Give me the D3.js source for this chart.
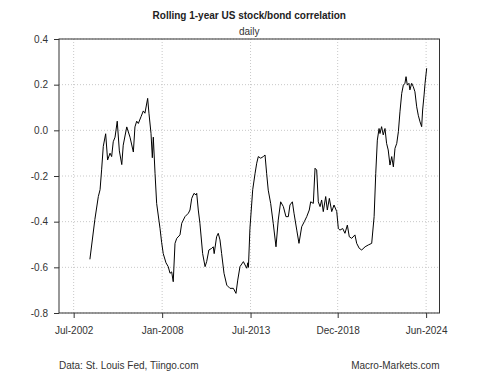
<!DOCTYPE html>
<html>
<head>
<meta charset="utf-8">
<script src="https://cdn.jsdelivr.net/npm/d3@7"></script>
<style>
  body { margin: 0; background: #fff; }
  text { font-family: "Liberation Sans", Arial, sans-serif; }
</style>
</head>
<body>
<svg id="vis" width="500" height="375"></svg>
<script>
// rolling 1y correlation (approx)
const dates = [
  '2003-07-05', '2003-10-26', '2004-01-12', '2004-02-21', '2004-03-28', '2004-05-04', '2004-06-27',
  '2004-08-10', '2004-10-04', '2004-11-10', '2004-12-16', '2005-01-26', '2005-03-17', '2005-05-04',
  '2005-06-28', '2005-07-31', '2005-10-19', '2006-01-01', '2006-03-18', '2006-04-23', '2006-06-02',
  '2006-07-09', '2006-09-09', '2006-10-30', '2006-12-06', '2007-02-06', '2007-03-07', '2007-04-23',
  '2007-05-23', '2007-06-14', '2007-07-24', '2007-08-29', '2007-11-14', '2007-12-20', '2008-01-26',
  '2008-03-28', '2008-05-18', '2008-06-28', '2008-08-04', '2008-09-09', '2008-10-19', '2008-11-28',
  '2009-02-09', '2009-03-21', '2009-06-03', '2009-08-19', '2009-09-24', '2009-11-03', '2009-12-24',
  '2010-02-10', '2010-02-24', '2010-04-01', '2010-05-08', '2010-07-09', '2010-09-02', '2010-10-08',
  '2010-11-28', '2011-01-30', '2011-03-07', '2011-03-28', '2011-05-22', '2011-06-28', '2011-08-07',
  '2011-09-13', '2011-11-06', '2012-01-08', '2012-03-20', '2012-06-06', '2012-08-04', '2012-09-13',
  '2012-11-03', '2013-01-19', '2013-04-05', '2013-04-30', '2013-05-14', '2013-06-17', '2013-08-19',
  '2013-10-12', '2013-11-18', '2013-12-24', '2014-02-17', '2014-04-16', '2014-05-26', '2014-07-01',
  '2014-08-07', '2014-10-01', '2014-11-28', '2015-01-30', '2015-03-22', '2015-05-16', '2015-07-16',
  '2015-09-13', '2015-11-06', '2015-12-13', '2016-02-06', '2016-03-14', '2016-05-16', '2016-07-05',
  '2016-09-05', '2016-11-03', '2016-12-28', '2017-02-24', '2017-03-28', '2017-05-27', '2017-07-05',
  '2017-08-11', '2017-09-17', '2017-10-27', '2017-12-02', '2018-01-08', '2018-03-04', '2018-04-10',
  '2018-05-26', '2018-07-19', '2018-09-09', '2018-11-10', '2018-12-16', '2019-01-22', '2019-03-25',
  '2019-05-16', '2019-07-09', '2019-08-22', '2019-10-16', '2019-12-28', '2020-02-06', '2020-04-05',
  '2020-05-30', '2020-08-15', '2020-10-27', '2021-01-12', '2021-03-08', '2021-04-14', '2021-05-20',
  '2021-06-28', '2021-07-19', '2021-08-25', '2021-10-01', '2021-11-10', '2021-12-16', '2022-01-22',
  '2022-03-03', '2022-04-12', '2022-05-19', '2022-06-25', '2022-08-04', '2022-09-10', '2022-10-16',
  '2022-11-25', '2023-01-01', '2023-02-06', '2023-03-03', '2023-04-01', '2023-05-08', '2023-05-30',
  '2023-07-09', '2023-08-15', '2023-09-21', '2023-10-31', '2023-12-06', '2024-01-15', '2024-02-21',
  '2024-03-14', '2024-04-16', '2024-05-08', '2024-06-14'
]
const corr = [
  -0.565, -0.39, -0.29, -0.26, -0.17, -0.07, -0.015,
  -0.13, -0.10, -0.115, -0.05, -0.03, 0.04, -0.09,
  -0.15, -0.065, 0.015, -0.03, -0.095, 0.015, 0.04,
  0.03, 0.06, 0.085, 0.075, 0.14, 0.075, -0.013,
  -0.12, -0.03, -0.19, -0.32, -0.43, -0.49, -0.54,
  -0.58, -0.597, -0.626, -0.62, -0.663, -0.495, -0.473,
  -0.458, -0.407, -0.378, -0.363, -0.349, -0.298, -0.276,
  -0.283, -0.276, -0.349, -0.407, -0.54, -0.597, -0.575,
  -0.524, -0.517, -0.51, -0.54, -0.466, -0.451, -0.48,
  -0.54, -0.626, -0.678, -0.692, -0.692, -0.714, -0.656,
  -0.597, -0.575, -0.604, -0.58, -0.6, -0.43, -0.26,
  -0.188, -0.144, -0.115, -0.122, -0.115, -0.108, -0.188,
  -0.262, -0.32, -0.407, -0.51, -0.393, -0.313, -0.334,
  -0.378, -0.378, -0.327, -0.313, -0.363, -0.437, -0.495,
  -0.422, -0.40, -0.378, -0.349, -0.313, -0.32, -0.166,
  -0.174, -0.313, -0.334, -0.305, -0.356, -0.29, -0.349,
  -0.298, -0.356, -0.327, -0.356, -0.43, -0.437, -0.43,
  -0.451, -0.415, -0.466, -0.473, -0.458, -0.495, -0.517,
  -0.524, -0.51, -0.502, -0.495, -0.378, -0.188, -0.043,
  0.008, -0.014, 0.016, -0.02, 0.008, -0.057, -0.086,
  -0.152, -0.115, -0.16, -0.079, -0.057, -0.006, 0.081,
  0.162, 0.198, 0.206, 0.235, 0.198, 0.206, 0.177,
  0.206, 0.191, 0.169, 0.103, 0.066, 0.037, 0.016,
  0.089, 0.155, 0.206, 0.272
]
const xTicks = ['2002-07-01', '2008-01-01', '2013-07-01', '2018-12-01', '2024-06-01']
const xTickLabels = ['Jul-2002', 'Jan-2008', 'Jul-2013', 'Dec-2018', 'Jun-2024']
const yTicks = [0.4, 0.2, 0.0, -0.2, -0.4, -0.6, -0.8]

const parse = d3.timeParse('%Y-%m-%d')
const data = dates.map((d, i) => ({ date: parse(d), value: corr[i] }))

const margin = { top: 39, right: 60.5, bottom: 62, left: 59 }
const width = 500 - margin.left - margin.right
const height = 375 - margin.top - margin.bottom

const svg = d3.select('#vis')
const g = svg.append('g')
  .attr('transform', `translate(${margin.left},${margin.top})`)

const x = d3.scaleTime()
  .domain([parse('2001-08-02'), parse('2025-04-01')])
  .range([0, width])
const y = d3.scaleLinear()
  .domain([-0.8, 0.4])
  .range([height, 0])

// grid
g.append('g')
  .selectAll('line')
  .data(xTicks)
  .join('line')
  .attr('x1', d => x(parse(d)))
  .attr('x2', d => x(parse(d)))
  .attr('y1', 0)
  .attr('y2', height)
  .attr('stroke', '#c8c8c8')
  .attr('stroke-dasharray', '1,2')
g.append('g')
  .selectAll('line')
  .data(yTicks)
  .join('line')
  .attr('x1', 0)
  .attr('x2', width)
  .attr('y1', d => y(d))
  .attr('y2', d => y(d))
  .attr('stroke', '#c8c8c8')
  .attr('stroke-dasharray', '1,2')

// axes
const yAxis = g.append('g')
  .call(d3.axisLeft(y)
    .tickValues(yTicks)
    .tickSize(5)
    .tickPadding(6)
    .tickFormat(d => d.toFixed(1)))
const xAxis = g.append('g')
  .attr('transform', `translate(0,${height})`)
  .call(d3.axisBottom(x)
    .tickValues(xTicks.map(parse))
    .tickSize(5)
    .tickPadding(9)
    .tickFormat((d, i) => xTickLabels[i]))
for (const ax of [xAxis, yAxis]) {
  ax.select('.domain').remove()
  ax.selectAll('line').attr('stroke', '#333')
  ax.selectAll('text')
    .attr('fill', '#333')
    .style('font-size', '10px')
    .style('font-family', '"Liberation Sans", Arial, sans-serif')
}

// series
g.append('path')
  .datum(data)
  .attr('fill', 'none')
  .attr('stroke', '#000')
  .attr('stroke-width', 1)
  .attr('d', d3.line().x(d => x(d.date)).y(d => y(d.value)))

// box
g.append('rect')
  .attr('width', width)
  .attr('height', height)
  .attr('fill', 'none')
  .attr('stroke', '#333')

// titles
const cx = margin.left + width / 2
svg.append('text')
  .attr('x', cx)
  .attr('y', 19)
  .attr('text-anchor', 'middle')
  .attr('fill', '#222')
  .style('font-size', '10px')
  .style('font-weight', 'bold')
  .text('Rolling 1-year US stock/bond correlation')
svg.append('text')
  .attr('x', cx)
  .attr('y', 34.5)
  .attr('text-anchor', 'middle')
  .attr('fill', '#333')
  .style('font-size', '10px')
  .text('daily')
svg.append('text')
  .attr('x', margin.left)
  .attr('y', 368.5)
  .attr('fill', '#333')
  .style('font-size', '10px')
  .text('Data: St. Louis Fed, Tiingo.com')
svg.append('text')
  .attr('x', margin.left + width)
  .attr('y', 368.5)
  .attr('text-anchor', 'end')
  .attr('fill', '#333')
  .style('font-size', '10px')
  .text('Macro-Markets.com')
</script>
</body>
</html>
